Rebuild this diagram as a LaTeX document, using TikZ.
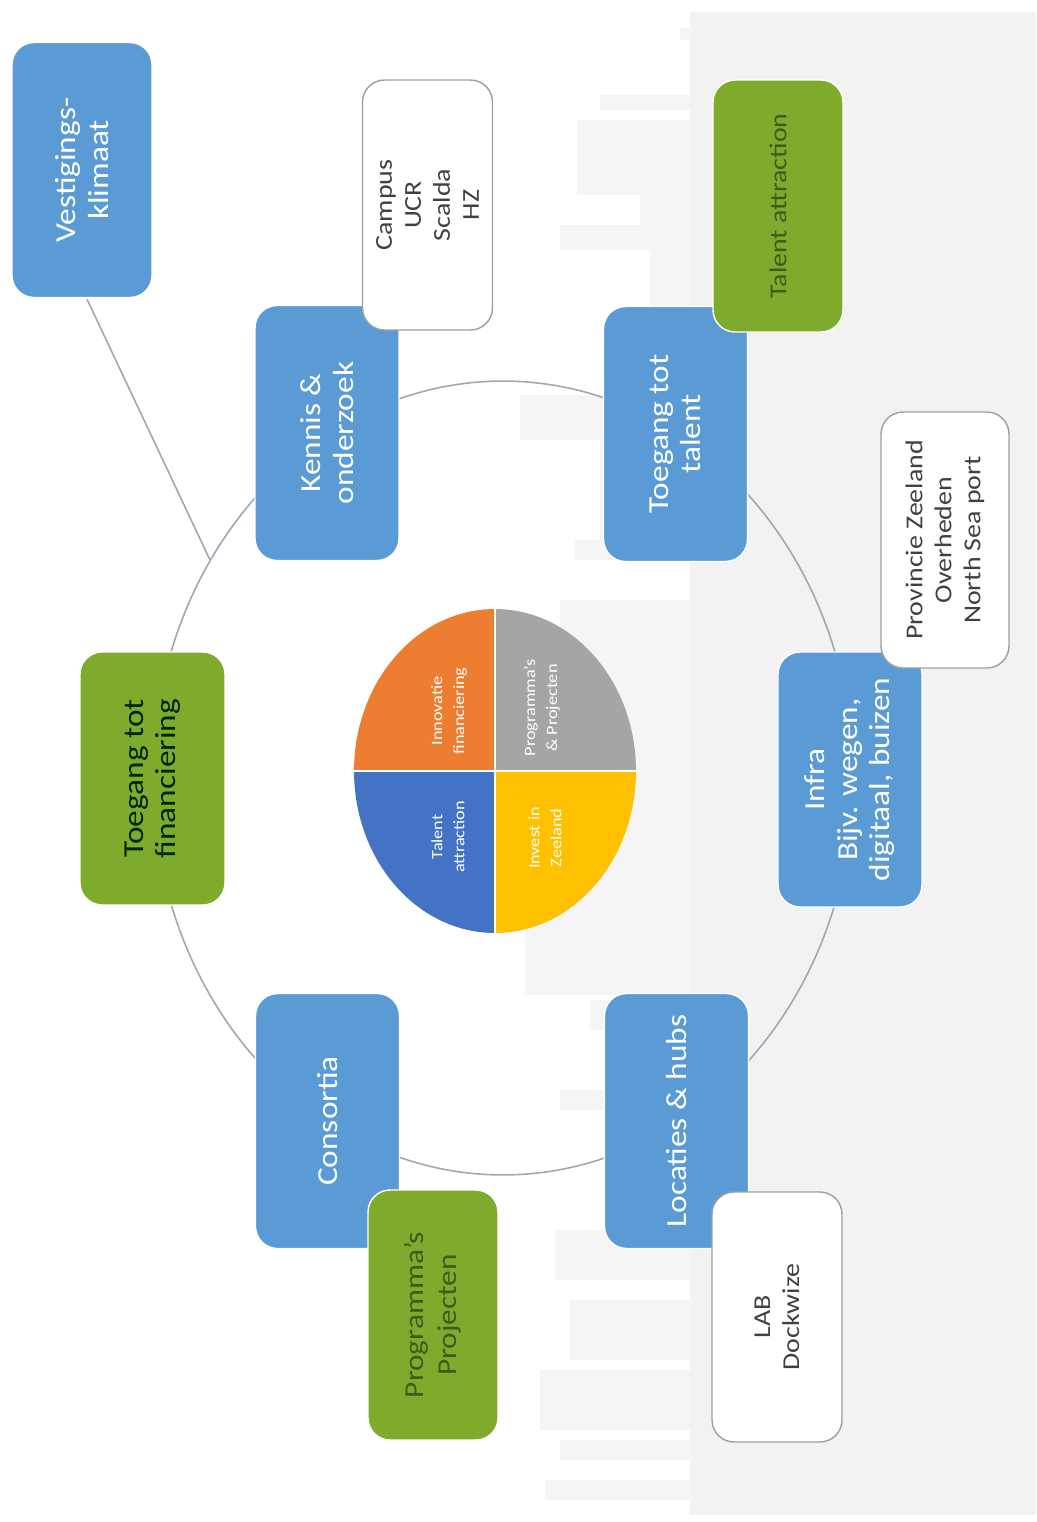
\documentclass[tikz,border=0pt]{standalone}
\usepackage{fontspec}
\setmainfont{Carlito}
\newfontfamily\stfont[FakeStretch=1.15]{Carlito}
\definecolor{sblue}{HTML}{5B9BD5}
\definecolor{sgreen}{HTML}{7FAB2C}
\definecolor{ringc}{HTML}{9CA8B4}
\definecolor{bgc}{HTML}{F2F2F2}
\definecolor{bgl}{HTML}{F5F5F5}
\definecolor{porange}{HTML}{ED7D31}
\definecolor{pgray}{HTML}{A5A5A5}
\definecolor{pblue}{HTML}{4472C4}
\definecolor{pyellow}{HTML}{FFC000}
\definecolor{dkgreen}{HTML}{3E5A1C}
\definecolor{txtgray}{HTML}{404040}
\tikzset{
  box/.style={rounded corners=0.44cm, rotate=90, align=center, inner sep=2pt},
  bigfont/.style={font=\stfont\fontsize{16.5}{18.5}\selectfont},
  smallfont/.style={font=\stfont\fontsize{13.8}{16.5}\selectfont},
  bluebox/.style={box, bigfont, fill=sblue, draw=white, line width=0.8pt, text=white,
                  minimum width=5.1cm, minimum height=2.88cm},
  greenbox/.style={box, fill=sgreen, draw=white, line width=0.8pt,
                  minimum width=5.0cm, minimum height=2.6cm},
  whitebox/.style={box, smallfont, fill=white, draw=gray!75, line width=0.8pt, text=txtgray,
                  minimum width=5.0cm, minimum height=2.6cm},
  pietext/.style={rotate=90, align=center, text=white, inner sep=1pt,
                  font=\stfont\fontsize{9}{12.5}\selectfont},
  ringline/.style={draw=ringc, line width=0.9pt},
  skyl/.style={fill=bgl}
}
\begin{document}
\begin{tikzpicture}[x=0.02cm,y=-0.02cm]
\useasboundingbox (0,0) rectangle (1036,1522);
\fill[white] (0,0) rectangle (1036,1522);
% faint skyline background
\fill[bgc] (690,12) rectangle (1036,1515);
\fill[skyl] (680,28) rectangle (690,40);
\fill[skyl] (600,95) rectangle (690,110);
\fill[skyl] (577,120) rectangle (690,195);
\fill[skyl] (640,195) rectangle (690,225);
\fill[skyl] (560,225) rectangle (690,250);
\fill[skyl] (650,250) rectangle (690,330);
\fill[skyl] (620,330) rectangle (690,350);
\fill[skyl] (520,395) rectangle (690,440);
\fill[skyl] (600,440) rectangle (690,540);
\fill[skyl] (575,540) rectangle (690,560);
\fill[skyl] (560,600) rectangle (690,700);
\fill[skyl] (610,700) rectangle (690,820);
\fill[skyl] (525,820) rectangle (690,995);
\fill[skyl] (590,1000) rectangle (690,1030);
\fill[skyl] (630,1030) rectangle (690,1090);
\fill[skyl] (560,1090) rectangle (690,1110);
\fill[skyl] (620,1110) rectangle (690,1230);
\fill[skyl] (555,1230) rectangle (690,1280);
\fill[skyl] (570,1300) rectangle (690,1360);
\fill[skyl] (540,1370) rectangle (690,1430);
\fill[skyl] (560,1440) rectangle (690,1460);
\fill[skyl] (545,1480) rectangle (690,1500);

% ring
\draw[ringline] (503,778) ellipse [x radius=7cm, y radius=7.94cm];
\coordinate (ringpt) at (210,560);

% pie
\coordinate (pc) at (495,771);
\fill[porange] (pc) -- ++(-2.82cm,0) arc[start angle=180, end angle=90, x radius=2.82cm, y radius=3.24cm] -- cycle;
\fill[pgray] (pc) -- ++(0,3.24cm) arc[start angle=90, end angle=0, x radius=2.82cm, y radius=3.24cm] -- cycle;
\fill[pyellow] (pc) -- ++(2.82cm,0) arc[start angle=0, end angle=-90, x radius=2.82cm, y radius=3.24cm] -- cycle;
\fill[pblue] (pc) -- ++(0,-3.24cm) arc[start angle=-90, end angle=-180, x radius=2.82cm, y radius=3.24cm] -- cycle;
\draw[white, line width=1.3pt] (pc) ++(-2.9cm,0) -- ++(5.8cm,0);
\draw[white, line width=1.3pt] (pc) ++(0,-3.3cm) -- ++(0,6.6cm);
\node[pietext] (p1) at (449,711) {Innovatie\\financiering};
\node[pietext] (p2) at (542,708) {Programma’s\\\& Projecten};
\node[pietext] (p3) at (448,837) {Talent\\attraction};
\node[pietext] (p4) at (545,838) {Invest in\\Zeeland};

% main boxes
\node[bluebox, minimum height=2.8cm] (vest) at (82,170) {Vestigings-\\klimaat};
\node[bluebox] (kennis) at (327,433) {Kennis \&\\onderzoek};
\node[bluebox] (ttalent) at (675.5,434) {Toegang tot\\talent};
\node[bluebox] (infra) at (850,779.5) {Infra\\Bijv. wegen,\\digitaal, buizen};
\node[bluebox] (consortia) at (327.5,1121) {Consortia};
\node[bluebox] (locaties) at (676.5,1121) {Locaties \& hubs};
\node[greenbox, bigfont, text=black!85!green, minimum width=5.06cm, minimum height=2.9cm] (fin) at (152.5,778.5) {Toegang tot\\financiering};

% secondary boxes
\node[whitebox] (campus) at (427.5,205) {Campus\\UCR\\Scalda\\HZ};
\node[greenbox, smallfont, text=dkgreen, minimum width=5.04cm] (talattr) at (778,206) {Talent attraction};
\node[whitebox, minimum width=5.12cm, minimum height=2.56cm] (prov) at (945,540) {Provincie Zeeland\\Overheden\\North Sea port};
\node[greenbox, font=\stfont\fontsize{15.5}{19}\selectfont, text=dkgreen] (progr) at (433,1315) {Programma’s\\Projecten};
\node[whitebox] (lab) at (777,1317) {LAB\\Dockwize};

% connector
\draw[ringline] ([yshift=-0.02cm]vest.west) ++(0.1cm,0) -- (ringpt);
\end{tikzpicture}
\end{document}
